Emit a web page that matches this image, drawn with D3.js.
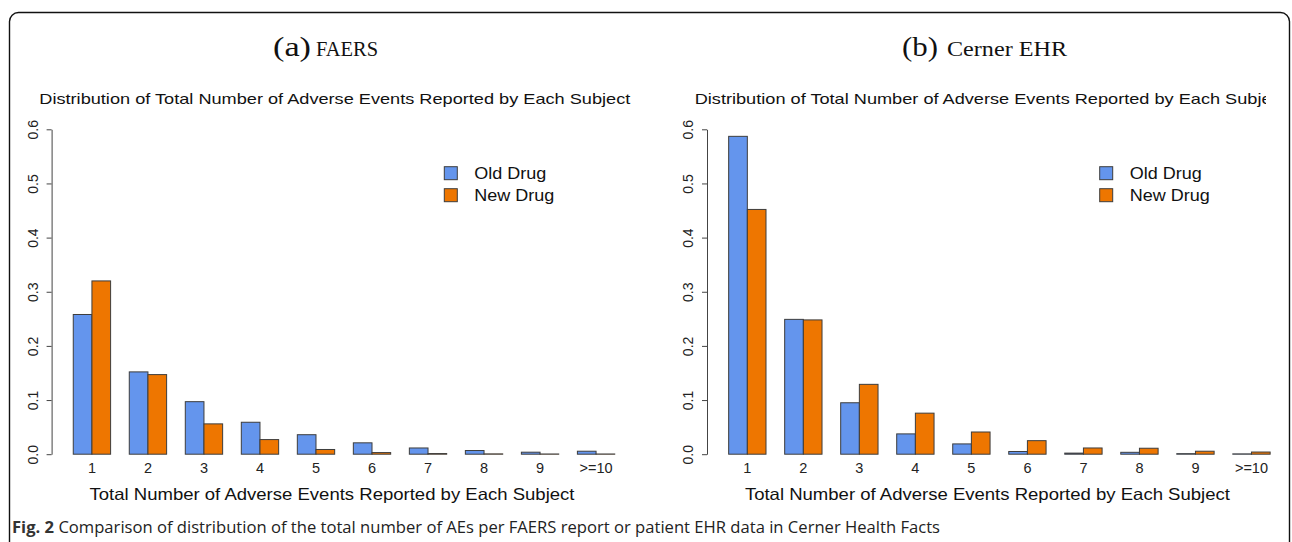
<!DOCTYPE html>
<html>
<head>
<meta charset="utf-8">
<script src="https://cdn.jsdelivr.net/npm/d3@7"></script>
<style>
  html, body { margin: 0; padding: 0; background: #fff; }
  svg { display: block; }
</style>
</head>
<body>
<svg id="chart" width="1292" height="542"></svg>
<script>
// Bin labels on the x axis
const categories = ["1", "2", "3", "4", "5", "6", "7", "8", "9", ">=10"];
const seriesNames = ["Old Drug", "New Drug"];
const seriesColors = ["#6495ED", "#EE7600"];

// Share of subjects per bin, FAERS reports
const faersOld = [0.258, 0.152, 0.097, 0.059, 0.036, 0.021, 0.0115, 0.0068, 0.0037, 0.0055];
const faersNew = [0.320, 0.147, 0.056, 0.027, 0.0087, 0.003, 0.0012, 0.0006, 0.0004, 0.0004];

// Share of patients per bin, Cerner EHR
const cernerOld = [0.587, 0.249, 0.095, 0.0375, 0.019, 0.005, 0.002, 0.0035, 0.001, 0.0006];
const cernerNew = [0.452, 0.248, 0.129, 0.0758, 0.041, 0.025, 0.0115, 0.011, 0.0055, 0.004];

const yTicks = [0, 0.1, 0.2, 0.3, 0.4, 0.5, 0.6];

const panelTitles = ["FAERS", "Cerner EHR"];
const panelLetters = ["(a)", "(b)"];
const plotTitle = "Distribution of Total Number of Adverse Events Reported by Each Subject";
const xTitle = "Total Number of Adverse Events Reported by Each Subject";

const svg = d3.select("#chart");
const sans = "'Liberation Sans', Arial, Helvetica, sans-serif";
const serif = "'Liberation Serif', 'DejaVu Serif', serif";

// Rounded figure frame
svg.append("rect")
  .attr("x", 9.5).attr("y", 12.5)
  .attr("width", 1280).attr("height", 580)
  .attr("rx", 9).attr("ry", 9)
  .attr("fill", "none").attr("stroke", "#111").attr("stroke-width", 1.4);

// The right plot title runs past its image edge and is cut there
const defs = svg.append("defs");
defs.append("clipPath").attr("id", "titleClip")
  .append("rect").attr("x", 640).attr("y", 0).attr("width", 626).attr("height", 542);

const panels = [
  { old: faersOld, nw: faersNew, dx: 0, letter: panelLetters[0], name: panelTitles[0],
    head: { x: 273, letterW: 38, nameX: 316, nameW: 62 }, clip: null },
  { old: cernerOld, nw: cernerNew, dx: 655.4, letter: panelLetters[1], name: panelTitles[1],
    head: { x: 902, letterW: 36, nameX: 947, nameW: 120 }, clip: "url(#titleClip)" }
];

panels.forEach(p => {
  const g = svg.append("g");

  const x0 = d3.scaleBand()
    .domain(categories)
    .range([51.6 + p.dx, 636.4 + p.dx])
    .paddingInner(1 / 3)
    .paddingOuter(1.16 / 3);
  const x1 = d3.scaleBand()
    .domain(seriesNames)
    .range([0, x0.bandwidth()]);
  const y = d3.scaleLinear().domain([0, 0.6]).range([454.2, 129.3]);

  // Panel heading
  g.append("text")
    .attr("x", p.head.x).attr("y", 56)
    .attr("font-family", serif).attr("font-size", 28)
    .attr("textLength", p.head.letterW).attr("lengthAdjust", "spacingAndGlyphs")
    .attr("fill", "#111")
    .text(p.letter);
  g.append("text")
    .attr("x", p.head.nameX).attr("y", 56)
    .attr("font-family", serif).attr("font-size", 20)
    .attr("textLength", p.head.nameW).attr("lengthAdjust", "spacingAndGlyphs")
    .attr("fill", "#111")
    .text(p.name);

  // Plot title
  const t = g.append("text")
    .attr("x", 39.3 + p.dx).attr("y", 103.5)
    .attr("font-family", sans).attr("font-size", 15)
    .attr("textLength", 591).attr("lengthAdjust", "spacingAndGlyphs")
    .attr("fill", "#111")
    .text(plotTitle);
  if (p.clip) t.attr("clip-path", p.clip);

  // Bars
  const rows = categories.map((c, i) => ({ cat: c, vals: [p.old[i], p.nw[i]] }));
  const grp = g.append("g").selectAll("g").data(rows).join("g")
    .attr("transform", d => `translate(${x0(d.cat)},0)`);
  grp.selectAll("rect")
    .data(d => d.vals.map((v, k) => ({ v, s: seriesNames[k], k })))
    .join("rect")
    .attr("x", d => x1(d.s))
    .attr("y", d => y(d.v))
    .attr("width", x1.bandwidth())
    .attr("height", d => y(0) - y(d.v))
    .attr("fill", d => seriesColors[d.k])
    .attr("stroke", "#3d3d3d")
    .attr("stroke-width", 1);

  // Y axis with rotated labels
  const yAxis = g.append("g")
    .attr("transform", `translate(${51.6 + p.dx},0)`)
    .call(d3.axisLeft(y).tickValues(yTicks).tickSize(5).tickSizeOuter(0).tickFormat(d3.format(".1f")));
  yAxis.select(".domain").attr("stroke", "#444");
  yAxis.selectAll(".tick line").attr("stroke", "#444");
  yAxis.selectAll(".tick text")
    .attr("transform", "rotate(-90)")
    .attr("x", 0).attr("y", -18.5).attr("dy", "0.35em")
    .attr("text-anchor", "middle")
    .attr("font-family", sans).attr("font-size", 14)
    .attr("fill", "#222");

  // X axis labels only
  const xAxis = g.append("g")
    .attr("transform", `translate(0,${y(0)})`)
    .call(d3.axisBottom(x0).tickSize(0));
  xAxis.select(".domain").remove();
  xAxis.selectAll(".tick text")
    .attr("y", 14).attr("dy", "0.35em")
    .attr("font-family", sans).attr("font-size", 14.5)
    .attr("fill", "#222");

  // X axis title
  g.append("text")
    .attr("x", 332 + p.dx).attr("y", 494).attr("dy", "0.35em")
    .attr("text-anchor", "middle")
    .attr("font-family", sans).attr("font-size", 16.5)
    .attr("textLength", 485).attr("lengthAdjust", "spacingAndGlyphs")
    .attr("fill", "#111")
    .text(xTitle);

  // Legend
  const lg = g.append("g");
  seriesNames.forEach((s, k) => {
    const cy = 173.2 + k * 22;
    lg.append("rect")
      .attr("x", 444.3 + p.dx).attr("y", cy - 6.5)
      .attr("width", 13).attr("height", 13)
      .attr("fill", seriesColors[k]).attr("stroke", "#3d3d3d").attr("stroke-width", 1);
    lg.append("text")
      .attr("x", 474.3 + p.dx).attr("y", cy).attr("dy", "0.35em")
      .attr("font-family", sans).attr("font-size", 17)
      .attr("textLength", k === 0 ? 72 : 80).attr("lengthAdjust", "spacingAndGlyphs")
      .attr("fill", "#111")
      .text(s);
  });
});

// Figure caption
const cap = svg.append("text")
  .attr("x", 12).attr("y", 528).attr("dy", "0.35em")
  .attr("font-family", "'Open Sans', 'Noto Sans', sans-serif").attr("font-size", 15.5)
  .attr("textLength", 928).attr("lengthAdjust", "spacingAndGlyphs")
  .attr("fill", "#222");
cap.append("tspan").attr("font-weight", "bold").attr("fill", "#333").text("Fig. 2");
cap.append("tspan").text(" Comparison of distribution of the total number of AEs per FAERS report or patient EHR data in Cerner Health Facts");
</script>
</body>
</html>
